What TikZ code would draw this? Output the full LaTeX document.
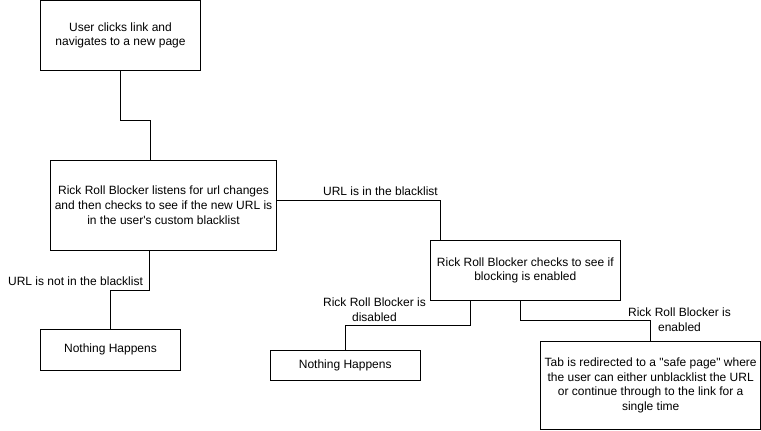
\documentclass[tikz,border=0pt]{standalone}
\usepackage{fontspec}
\setmainfont{Liberation Sans}[Ligatures=TeXOff]
\usepackage{tikz}
\tikzset{every edge/.style={draw}}

\begin{document}
\begin{tikzpicture}[x=1pt, y=-1pt, line width=1pt,
    stepbox/.style={draw, align=center, inner sep=0pt, outer sep=0pt,
      font=\fontsize{12}{14.6}\selectfont},
    cond/.style={align=center, inner sep=0pt,
      font=\fontsize{12}{14.6}\selectfont}]
    \useasboundingbox (0,0) rectangle (761,431);

    % boxes
    \node[stepbox, minimum width=160pt, minimum height=70pt] at (120.5, 35.5) (click)
      {User clicks link and\\navigates to a new page};
    \node[stepbox, minimum width=226.5pt, minimum height=90pt] at (163.5, 205.3) (listen)
      {Rick Roll Blocker listens for url changes\\and then checks to see if the new URL is\\in the user's custom blacklist};
    \node[stepbox, minimum width=190pt, minimum height=60pt] at (525.3, 270.3) (enabled)
      {Rick Roll Blocker checks to see if\\blocking is enabled};
    \node[stepbox, minimum width=140.4pt, minimum height=41pt] at (110.5, 349.8) (nothingA)
      {Nothing Happens};
    \node[stepbox, minimum width=150.3pt, minimum height=30pt] at (345.2, 365.3) (nothingB)
      {Nothing Happens};
    \node[stepbox, minimum width=220pt, minimum height=87.5pt] at (650.7, 385.4) (redirect)
      {Tab is redirected to a "safe page" where\\the user can either unblacklist the URL\\or continue through to the link for a\\single time};

    % elbows
    \coordinate (cl) at (150.5, 120.3);
    \coordinate (inl) at (440.7, 200.3);
    \coordinate (notA) at (149.5, 290.3);
    \coordinate (notB) at (110.5, 290.3);
    \coordinate (disA) at (470.7, 325.7);
    \coordinate (disB) at (345.2, 325.7);
    \coordinate (enA) at (520.3, 320.3);
    \coordinate (enB) at (650.7, 320.3);

    \draw (click.south) |- (cl) -- (cl |- listen.north);
    \draw (listen.east |- inl) -- (inl) -- (inl |- enabled.north);
    \draw (notA |- listen.south) -- (notA) -- (notB) -- (notB |- nothingA.north);
    \draw (disA |- enabled.south) -- (disA) -- (disB) -- (disB |- nothingB.north);
    \draw (enA |- enabled.south) -- (enA) -- (enB) -- (enB |- redirect.north);

    % labels
    \node[cond] at (380.5, 191) (inlist) {URL is in the blacklist};
    \node[cond] at (75.5, 281) (notlist) {URL is not in the blacklist};
    \node[cond] at (374.5, 310) (isoff) {Rick Roll Blocker is\\disabled};
    \node[cond] at (679.5, 319.5) (ison) {Rick Roll Blocker is\\enabled};
  \end{tikzpicture}
\end{document}
